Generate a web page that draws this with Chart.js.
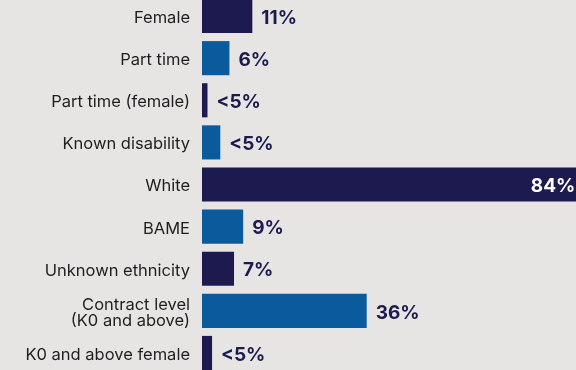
<!DOCTYPE html>
<html>
<head>
<meta charset="utf-8">
<script src="https://cdn.jsdelivr.net/npm/chart.js@4/dist/chart.umd.min.js"></script>
<style>
  html, body { margin: 0; padding: 0; background: #e6e5e3; }
  #wrap { position: relative; width: 576px; height: 370px; overflow: hidden; background: #e6e5e3; }
  #box { position: absolute; left: 0; top: -5px; width: 600px; height: 379px; }
</style>
</head>
<body>
<div id="wrap"><div id="box"><canvas id="c"></canvas></div></div>
<script>
const categories = [
  'Female', 'Part time', 'Part time (female)', 'Known disability', 'White',
  'BAME', 'Unknown ethnicity', ['Contract level', '(K0 and above)'], 'K0 and above female'
];
const shares = [11, 6, 1.2, 4, 84, 9, 7, 36, 2.2];
const valueLabels = ['11%', '6%', '<5%', '<5%', '84%', '9%', '7%', '36%', '<5%'];

const NAVY = '#1c1a4e';
const BLUE = '#0b5a9c';
const barColors = categories.map((_, i) => (i % 2 === 0 ? NAVY : BLUE));

const valueLabelPlugin = {
  id: 'valueLabels',
  afterDatasetsDraw(chart) {
    const ctx = chart.ctx;
    const meta = chart.getDatasetMeta(0);
    ctx.save();
    ctx.font = 'bold 19px Inter, sans-serif';
    ctx.textBaseline = 'middle';
    meta.data.forEach((bar, i) => {
      const txt = valueLabels[i];
      if (shares[i] > 60) {
        ctx.fillStyle = '#ffffff';
        ctx.textAlign = 'right';
        ctx.fillText(txt, bar.x - 11, bar.y + 2);
      } else {
        ctx.fillStyle = NAVY;
        ctx.textAlign = 'left';
        ctx.fillText(txt, bar.x + 9, bar.y + 2);
      }
    });
    ctx.restore();
  }
};

new Chart(document.getElementById('c'), {
  type: 'bar',
  data: {
    labels: categories,
    datasets: [{
      data: shares,
      backgroundColor: barColors,
      borderWidth: 0,
      barPercentage: 0.81,
      categoryPercentage: 1.0
    }]
  },
  options: {
    indexAxis: 'y',
    responsive: true,
    maintainAspectRatio: false,
    animation: false,
    layout: { padding: 0 },
    plugins: { legend: { display: false }, tooltip: { enabled: false } },
    scales: {
      x: {
        display: false,
        min: 0,
        max: 87
      },
      y: {
        grid: { display: false, drawTicks: false },
        border: { display: false },
        afterFit(scale) {
          scale.width = 202;
          scale.paddingTop = 0;
          scale.paddingBottom = 0;
        },
        ticks: {
          color: '#1e1e1e',
          padding: 12,
          labelOffset: 2,
          font: { family: 'Inter, sans-serif', size: 16.5, lineHeight: '16px' },
          autoSkip: false
        }
      }
    }
  },
  plugins: [valueLabelPlugin]
});
</script>
</body>
</html>
